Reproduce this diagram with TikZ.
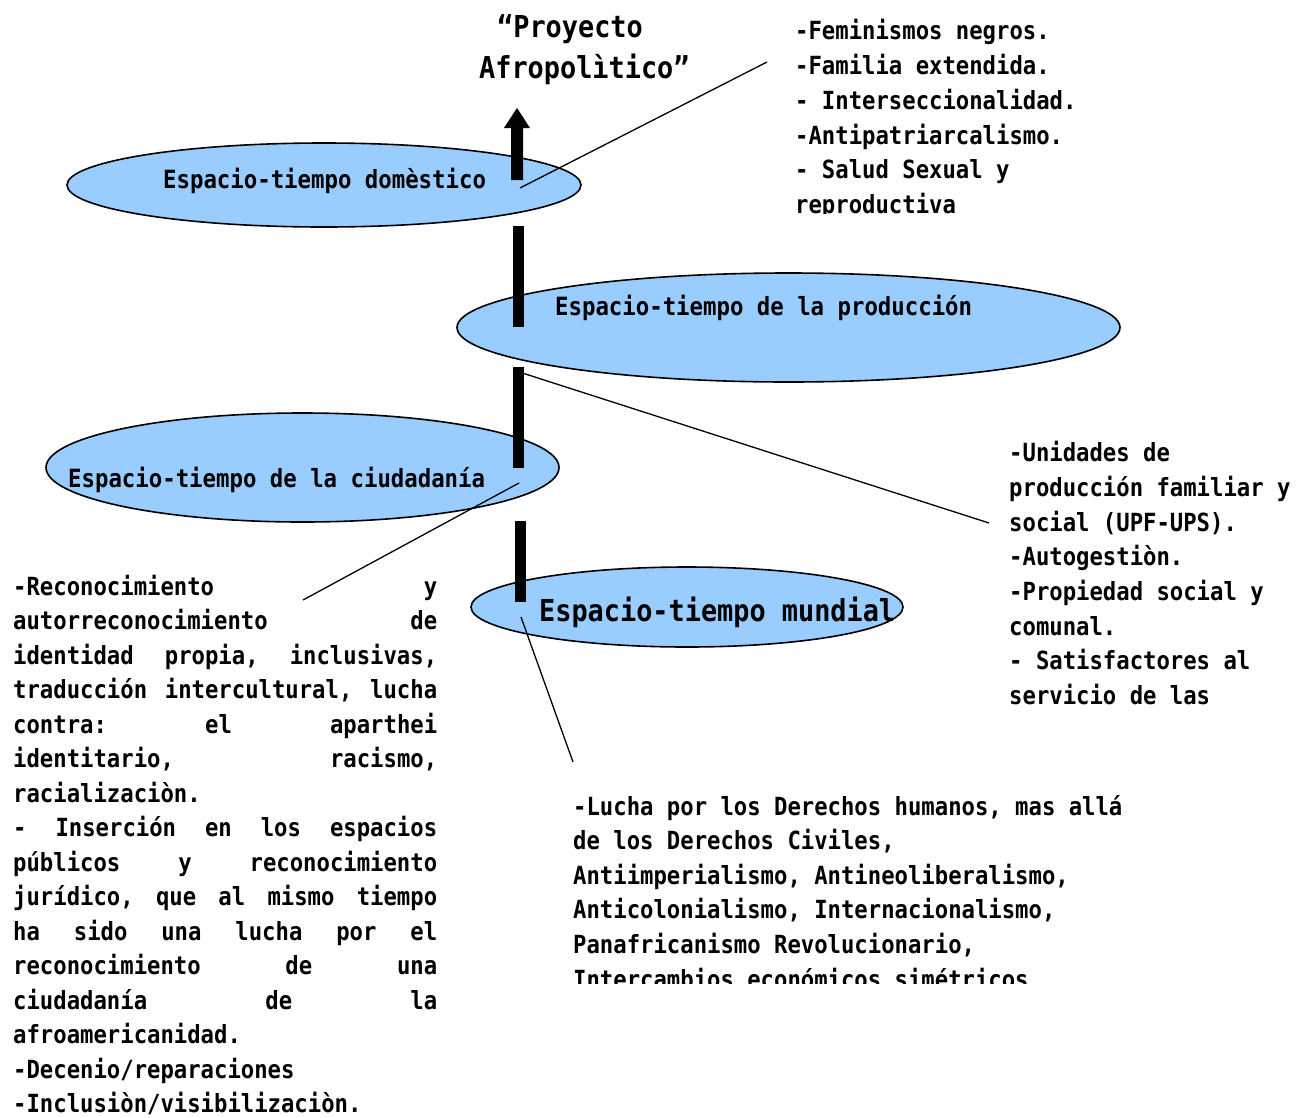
\documentclass[tikz,border=0pt]{standalone}
\usepackage{fontspec}
\usetikzlibrary{shapes.geometric}
\newfontfamily\gothic{DejaVu Sans Mono Bold}[FakeStretch=0.89]
\definecolor{ovalfill}{HTML}{99CCFF}

\begin{document}
\begin{tikzpicture}[x=1pt,y=-1pt,
  oval/.style={ellipse, draw=black, line width=1.6pt, fill=ovalfill, inner sep=0pt},
  leader/.style={draw=black, line width=1.3pt},
  txt/.style={anchor=base west, inner sep=0pt, font=\gothic\fontsize{25}{34.6}\selectfont},
  bigtxt/.style={anchor=base west, inner sep=0pt, font=\gothic\fontsize{30.2}{42}\selectfont},
  ovaltxt/.style={anchor=base west, inner sep=0pt, font=\gothic\fontsize{25.1}{30}\selectfont},
]
\useasboundingbox (0,0) rectangle (1304,1117);

% the four spaces
\node[oval, minimum width=514pt, minimum height=84pt]  (dom)  at (324,185) {};
\node[oval, minimum width=663pt, minimum height=109pt] (prod) at (788.5,327.5) {};
\node[oval, minimum width=513pt, minimum height=109pt] (ciu)  at (302.5,467.5) {};
\node[oval, minimum width=432pt, minimum height=80pt]  (mun)  at (687,607) {};

\node[ovaltxt] (domtxt)  at (163,188) {Espacio-tiempo domèstico};
\node[ovaltxt] (prodtxt) at (555,315) {Espacio-tiempo de la producción};
\node[ovaltxt] (ciutxt)  at (68,487)  {Espacio-tiempo de la ciudadanía};
\node[bigtxt]  (muntxt)  at (539,621) {Espacio-tiempo mundial};

% title
\node[bigtxt] (title1) at (497,37) {“Proyecto};
\node[bigtxt] (title2) at (479,78) {Afropolìtico”};

% upward arrow and vertical bars
\fill (517,108) -- (530,128) -- (523,128) -- (523,180) -- (511,180) -- (511,128) -- (504,128) -- cycle;
\fill (513,226) rectangle (524,327);
\fill (513,367) rectangle (524,468);
\fill (515,521) rectangle (526,602);

% leader lines
\coordinate (a1) at (520,188); \coordinate (a2) at (767,62);
\coordinate (b1) at (513,370); \coordinate (b2) at (989,523);
\coordinate (c1) at (519,483); \coordinate (c2) at (303,600);
\coordinate (e1) at (521,617); \coordinate (e2) at (573,762);
\draw[leader] (a1) -- (a2);
\draw[leader] (b1) -- (b2);
\draw[leader] (c1) -- (c2);
\draw[leader] (e1) -- (e2);

% domestic list
\begin{scope}
\clip (780,0) rectangle (1304,213);
\foreach \t [count=\i from 0] in {{-Feminismos negros.},{-Familia extendida.},{- Interseccionalidad.},{-Antipatriarcalismo.},{- Salud Sexual y},{reproductiva}}
  \node[txt] (dl-\i) at (795,39.3+34.9*\i) {\t};
\end{scope}

% production list
\foreach \t [count=\i from 0] in {{-Unidades de},{producción familiar y},{social (UPF-UPS).},{-Autogestiòn.},{-Propiedad social y},{comunal.},{- Satisfactores al},{servicio de las}}
  \node[txt] (pl-\i) at (1009,461.7+34.7*\i) {\t};

% citizenship list (justified)
\foreach \t [count=\i from 0] in {
  {-Reconocimiento\hfill y},
  {autorreconocimiento\hfill de},
  {identidad\hfill propia,\hfill inclusivas,},
  {traducción\hfill intercultural,\hfill lucha},
  {contra:\hfill el\hfill aparthei},
  {identitario,\hfill racismo,},
  {racializaciòn.\hfill},
  {-\hfill Inserción\hfill en\hfill los\hfill espacios},
  {públicos\hfill y\hfill reconocimiento},
  {jurídico,\hfill que\hfill al\hfill mismo\hfill tiempo},
  {ha\hfill sido\hfill una\hfill lucha\hfill por\hfill el},
  {reconocimiento\hfill de\hfill una},
  {ciudadanía\hfill de\hfill la},
  {afroamericanidad.\hfill},
  {-Decenio/reparaciones\hfill},
  {-Inclusiòn/visibilizaciòn.\hfill}}
  \node[txt] (cl-\i) at (13,595+34.53*\i) {\makebox[424pt][l]{\t}};

% world list
\begin{scope}
\clip (560,760) rectangle (1304,983);
\foreach \t [count=\i from 0] in {{-Lucha por los Derechos humanos, mas allá},{de los Derechos Civiles,},{Antiimperialismo, Antineoliberalismo,},{Anticolonialismo, Internacionalismo,},{Panafricanismo Revolucionario,},{Intercambios económicos simétricos}}
  \node[txt] (wl-\i) at (573,815+34.6*\i) {\t};
\end{scope}
\end{tikzpicture}
\end{document}
